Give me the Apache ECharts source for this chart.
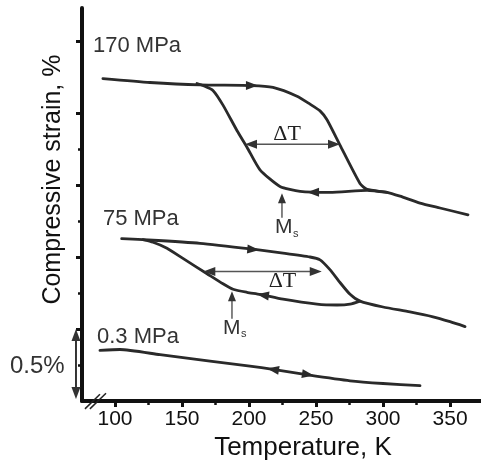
<!DOCTYPE html>
<html>
<head>
<meta charset="utf-8">
<script src="https://cdn.jsdelivr.net/npm/echarts@6/dist/echarts.min.js"></script>
<style>html,body{margin:0;padding:0;background:#fff}#c{width:481px;height:466px}</style>
</head>
<body>
<div id="c"></div>
<script>
// ---- data (Temperature in K, compressive strain in %, offset curves) ----
const temp170Heat   = [91.0,126.1,163.4,202.2,217.9,235.8,245.5,253.0,258.2,267.9,282.8,288.1,303.0,312.7,327.6,342.5,363.4];
const strain170Heat = [2.238,2.211,2.194,2.190,2.177,2.116,2.061,2.014,1.952,1.776,1.510,1.469,1.449,1.422,1.374,1.340,1.293];
const temp170Cool   = [161.2,165.7,173.1,180.6,191.0,198.5,208.2,223.1,238.1,260.4,288.1,303.0];
const strain170Cool = [2.204,2.190,2.156,2.054,1.878,1.762,1.605,1.490,1.456,1.449,1.463,1.449];

const temp75Heat    = [105.0,120.9,163.4,203.0,225.4,245.5,253.0,260.4,267.9,275.4,282.8,300.0,320.1,337.3,350.0,361.2];
const strain75Heat  = [1.127,1.120,1.095,1.054,1.027,1.000,0.980,0.912,0.823,0.741,0.694,0.653,0.619,0.585,0.551,0.517];
const temp75Cool    = [120.9,128.4,138.8,150.7,168.7,180.6,188.1,198.5,208.2,225.4,250.7,265.7,275.4,282.8];
const strain75Cool  = [1.120,1.102,1.061,0.990,0.884,0.814,0.776,0.755,0.741,0.707,0.673,0.667,0.673,0.694];

const temp03        = [88.8,103.7,133.6,170.9,200.7,217.9,244.0,275.4,300.0,327.6];
const strain03      = [0.352,0.358,0.322,0.277,0.243,0.220,0.182,0.141,0.122,0.107];

// direction arrows on curves: [T, strain, rotation]
const arrowT        = [202.2,247.8,203.2,210.4,217.9,244.0];
const arrowStrain   = [2.190,1.449,1.052,0.735,0.220,0.184];
const arrowRot      = [-90,90,-95,82,81,-99];

const xMajorTicks   = [100,150,200,250,300,350];
const xMinorTicks   = [125,175,225,275,325];
const yMajorTicks   = [0.5,1.0,1.5,2.0,2.5];
const yMinorTicks   = [0.25,0.75,1.25,1.75];

const pressureLabels = ['170 MPa','75 MPa','0.3 MPa'];

const FONT = 'Liberation Sans, Arial, Helvetica, sans-serif';
const LINE = '#2a2a2a';

function pairs(xs, ys){ return xs.map((x,i)=>[x, ys[i]]); }

const chart = echarts.init(document.getElementById('c'), null, {renderer:'canvas'});

const curveStyle = {color: LINE, width: 2.8, cap:'round', join:'round'};
function curve(name, xs, ys){
  return {name, type:'line', data: pairs(xs,ys), showSymbol:false, symbol:'none',
    smooth:0.2, lineStyle: curveStyle, itemStyle:{color:LINE},
    animation:false, silent:true, z:3};
}

chart.setOption({
  animation:false,
  backgroundColor:'#fff',
  grid:{left:82, right:0, top:8, bottom:57, containLabel:false},
  xAxis:[{
    type:'value', min:75.4, max:373.1, position:'bottom',
    name:'Temperature, K', nameLocation:'middle', nameGap:32,
    nameTextStyle:{fontFamily:FONT, fontSize:26, color:'#111', padding:[0,0,0,43]},
    axisLine:{show:true, onZero:false, lineStyle:{color:'#111', width:4}},
    axisTick:{show:true, inside:false, length:6, customValues:xMajorTicks, lineStyle:{color:'#111', width:3}},
    axisLabel:{show:true, margin:8, customValues:xMajorTicks, fontFamily:FONT, fontSize:21, color:'#111'},
    splitLine:{show:false}
  },{
    type:'value', min:75.4, max:373.1, position:'bottom',
    axisLine:{show:false},
    axisTick:{show:true, length:4, customValues:xMinorTicks, lineStyle:{color:'#111', width:2.5}},
    axisLabel:{show:false},
    splitLine:{show:false}
  }],
  yAxis:[{
    type:'value', min:0, max:2.728, position:'left',
    name:'Compressive strain, %', nameLocation:'middle', nameGap:16,
    nameTextStyle:{fontFamily:FONT, fontSize:25, color:'#111', padding:[0,0,0,50]},
    axisLine:{show:true, onZero:false, lineStyle:{color:'#111', width:4}},
    axisTick:{show:true, length:6, customValues:yMajorTicks, lineStyle:{color:'#111', width:3}},
    axisLabel:{show:false},
    splitLine:{show:false}
  },{
    type:'value', min:0, max:2.728, position:'left',
    axisLine:{show:false},
    axisTick:{show:true, length:4, customValues:yMinorTicks, lineStyle:{color:'#111', width:2.5}},
    axisLabel:{show:false},
    splitLine:{show:false}
  }],
  series:[
    curve('170 MPa heating', temp170Heat, strain170Heat),
    curve('170 MPa cooling', temp170Cool, strain170Cool),
    curve('75 MPa heating', temp75Heat, strain75Heat),
    curve('75 MPa cooling', temp75Cool, strain75Cool),
    curve('0.3 MPa', temp03, strain03),
    {name:'direction', type:'scatter', data: arrowT.map((t,i)=>({value:[t, arrowStrain[i]], symbolRotate: arrowRot[i]})),
      symbol:'triangle', symbolSize:[9,12], itemStyle:{color:LINE, opacity:1}, silent:true, z:5, animation:false}
  ]
});

// ---- annotations placed through the chart's own coordinate conversion ----
function px(t, s){ return chart.convertToPixel({gridIndex:0}, [t, s]); }
function text(str, t, s, size, opts){
  const p = px(t, s);
  return {type:'text', x:p[0], y:p[1], silent:true, z:10,
    style:Object.assign({text:str, fontFamily:FONT, fontSize:size, fill:'#333', align:'left', verticalAlign:'middle'}, opts||{})};
}
function head(tip, dirx, diry, len, wid, color){
  const bx = tip[0]-dirx*len, by = tip[1]-diry*len;
  const nx = -diry, ny = dirx;
  return {type:'polygon', silent:true, z:11, shape:{points:[[tip[0],tip[1]],[bx+nx*wid/2, by+ny*wid/2],[bx-nx*wid/2, by-ny*wid/2]]}, style:{fill:color}};
}
function hArrow(t1, t2, s){
  const a = px(t1, s), b = px(t2, s);
  return [
    {type:'line', silent:true, z:10, shape:{x1:a[0]+6, y1:a[1], x2:b[0]-6, y2:b[1]}, style:{stroke:'#555', lineWidth:1.5}},
    head(a, -1, 0, 12, 9, '#333'),
    head(b, 1, 0, 12, 9, '#333')
  ];
}
function upArrow(t, sTail, sTip, len, wid, lw){
  const a = px(t, sTail), b = px(t, sTip);
  return [
    {type:'line', silent:true, z:10, shape:{x1:a[0], y1:a[1], x2:b[0], y2:b[1]+4}, style:{stroke:'#333', lineWidth:lw}},
    head(b, 0, -1, len, wid, '#333')
  ];
}

const els = [];
els.push(text(pressureLabels[0], 83.6, 2.466, 22));
els.push(text(pressureLabels[1], 91.0, 1.262, 22));
els.push(text(pressureLabels[2], 86.6, 0.446, 22));
els.push(text('ΔT', 228.4, 1.854, 22, {fontFamily:'Liberation Serif, Times New Roman, serif', align:'center', fill:'#222'}));
els.push(text('ΔT', 225.0, 0.833, 22, {fontFamily:'Liberation Serif, Times New Roman, serif', align:'center', fill:'#222'}));
els.push(text('M', 219.4, 1.207, 21));
els.push(text('s', 232.8, 1.163, 11));
els.push(text('M', 180.6, 0.507, 21));
els.push(text('s', 194.0, 0.463, 11));
els.push(text('0.5%', 21.6, 0.241, 24));
els.push(...hArrow(197.0, 267.9, 1.782));
els.push(...hArrow(165.9, 254.3, 0.900));
els.push(...upArrow(224.6, 1.272, 1.442, 10, 8, 1.2));
els.push(...upArrow(187.3, 0.571, 0.762, 10, 8, 1.2));
// 0.5 % scale bar
(function(){
  const a = px(70.9, 0.015), b = px(70.9, 0.5);
  els.push({type:'line', silent:true, z:10, shape:{x1:a[0], y1:a[1]-8, x2:b[0], y2:b[1]+8}, style:{stroke:'#333', lineWidth:2}});
  els.push(head(a, 0, 1, 12, 9, '#333'));
  els.push(head(b, 0, -1, 12, 9, '#333'));
})();
// axis break marks
(function(){
  const a1 = px(77.6, -0.054), b1 = px(88.8, 0.048);
  const a2 = px(81.3, -0.054), b2 = px(93.3, 0.054);
  els.push({type:'line', silent:true, z:12, shape:{x1:a1[0], y1:a1[1], x2:b1[0], y2:b1[1]}, style:{stroke:'#222', lineWidth:1.5}});
  els.push({type:'line', silent:true, z:12, shape:{x1:a2[0], y1:a2[1], x2:b2[0], y2:b2[1]}, style:{stroke:'#222', lineWidth:1.5}});
})();
chart.setOption({graphic:{elements:els}});
</script>
</body>
</html>
